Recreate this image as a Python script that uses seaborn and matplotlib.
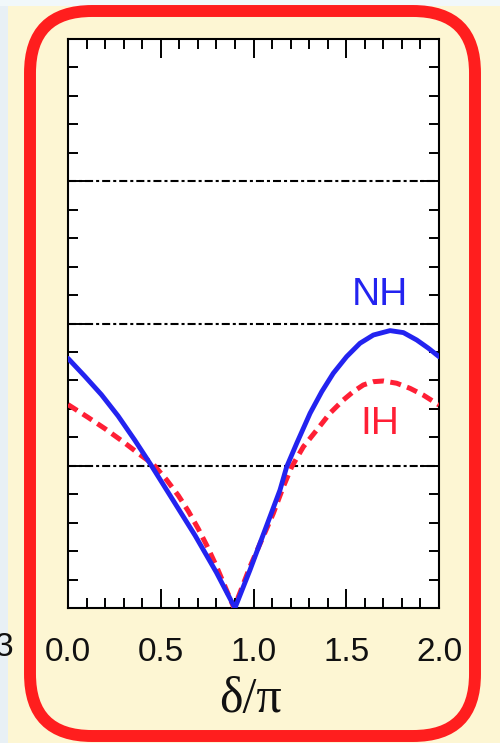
import numpy as np
import pandas as pd
import matplotlib
matplotlib.use("Agg")
import matplotlib.pyplot as plt
import seaborn as sns
from matplotlib.patches import FancyBboxPatch, Rectangle
from matplotlib.transforms import IdentityTransform
from matplotlib.ticker import MultipleLocator

# ---- data ----
delta_nh = [0.0, 0.09, 0.18, 0.27, 0.36, 0.45, 0.57, 0.685, 0.80, 0.90,
            0.981, 1.035, 1.089, 1.143, 1.179, 1.233, 1.305, 1.368, 1.430, 1.502,
            1.574, 1.646, 1.736, 1.808, 1.880, 1.943, 2.0]
nh = [1.755, 1.63, 1.50, 1.35, 1.18, 1.0, 0.75, 0.51, 0.25, 0.0,
      0.267, 0.455, 0.642, 0.830, 0.993, 1.158, 1.369, 1.521, 1.650, 1.767,
      1.861, 1.919, 1.950, 1.936, 1.884, 1.826, 1.767]

delta_ih = [0.0, 0.108, 0.20, 0.296, 0.386, 0.46, 0.532, 0.595, 0.649, 0.703,
            0.748, 0.798, 0.837, 0.882, 0.895,
            0.981, 1.044, 1.107, 1.161, 1.206, 1.269, 1.341, 1.412, 1.484, 1.538,
            1.592, 1.646, 1.700, 1.772, 1.844, 1.915, 2.0]
ih = [1.43, 1.34, 1.26, 1.17, 1.08, 1.01, 0.90, 0.79, 0.68, 0.555,
      0.44, 0.30, 0.18, 0.04, 0.0,
      0.290, 0.478, 0.666, 0.853, 0.993, 1.134, 1.251, 1.369, 1.462, 1.521,
      1.568, 1.591, 1.596, 1.580, 1.544, 1.497, 1.427]

x_ticks = [0.0, 0.5, 1.0, 1.5, 2.0]
x_tick_labels = ["0.0", "0.5", "1.0", "1.5", "2.0"]
grid_levels = [1, 2, 3]
series_labels = ["NH", "IH"]
x_label = "δ/π"

sns.set_theme(style="ticks")
plt.rcParams['font.family'] = ['Liberation Sans', 'DejaVu Sans']

W, H = 500, 743
CREAM = "#FDF6D3"
BLUE = "#2323F0"
RED = "#FF1F35"

fig = plt.figure(figsize=(W / 100, H / 100), dpi=100, facecolor=CREAM)

# light strips at left / top edge
fig.patches.append(Rectangle((0, 0), 8, H, transform=IdentityTransform(),
                             facecolor="#E8F0F5", edgecolor="none", zorder=0))
fig.patches.append(Rectangle((0, H - 6), W, 6, transform=IdentityTransform(),
                             facecolor="#F1F8FA", edgecolor="none", zorder=0))
# red rounded frame
fig.patches.append(FancyBboxPatch((30, 7), 445, 725,
                                  boxstyle="round,pad=0,rounding_size=62",
                                  transform=IdentityTransform(),
                                  facecolor="none", edgecolor="#FF1E1E",
                                  linewidth=8.6, zorder=1))

ax = fig.add_axes([68 / W, 1 - 608 / H, (439 - 68) / W, (608 - 39) / H])
ax.set_facecolor("white")

for lv in grid_levels:
    ax.axhline(lv, color="black", lw=1.5, linestyle=(0, (3.85, 1.45, 1.45, 1.45)), zorder=1)

df_nh = pd.DataFrame({"delta": delta_nh, "val": nh})
df_ih = pd.DataFrame({"delta": delta_ih, "val": ih})
sns.lineplot(data=df_ih, x="delta", y="val", ax=ax, color=RED, lw=3.6,
             linestyle=(0, (2.2, 1.3)), zorder=3)
sns.lineplot(data=df_nh, x="delta", y="val", ax=ax, color=BLUE, lw=3.5, zorder=4)

ax.set_xlim(0, 2)
ax.set_ylim(0, 4)
ax.set_xticks(x_ticks, x_tick_labels)
ax.xaxis.set_minor_locator(MultipleLocator(0.1))
ax.yaxis.set_major_locator(MultipleLocator(1))
ax.yaxis.set_minor_locator(MultipleLocator(0.2))
ax.set_yticklabels([])
ax.set_ylabel("")

for s in ax.spines.values():
    s.set_visible(True)
    s.set_color("black")
    s.set_linewidth(1.5)

ax.tick_params(which="both", direction="in", top=True, right=True,
               color="black", width=1.4)
ax.tick_params(which="major", length=14)
ax.tick_params(which="minor", length=7.5)
ax.tick_params(axis="x", labelsize=24, pad=21, labelcolor="#111111")

ax.set_xlabel(x_label, fontsize=36, family=["Liberation Serif", "DejaVu Serif"],
              color="#111111", va="baseline")
ax.xaxis.set_label_coords((250 - 68) / (439 - 68), (608 - 712) / (608 - 39))

ax.text(1.68, 2.20, series_labels[0], color=BLUE, fontsize=28, ha="center", va="center")
ax.text(1.68, 1.29, series_labels[1], color=RED, fontsize=28, ha="center", va="center")

# partial tick label of a neighbouring panel at the left edge
fig.text(13 / W, 1 - 648 / H, "3", ha="right", va="center", fontsize=24, color="#111111")

fig.savefig("out.png", dpi=100, facecolor=CREAM)
